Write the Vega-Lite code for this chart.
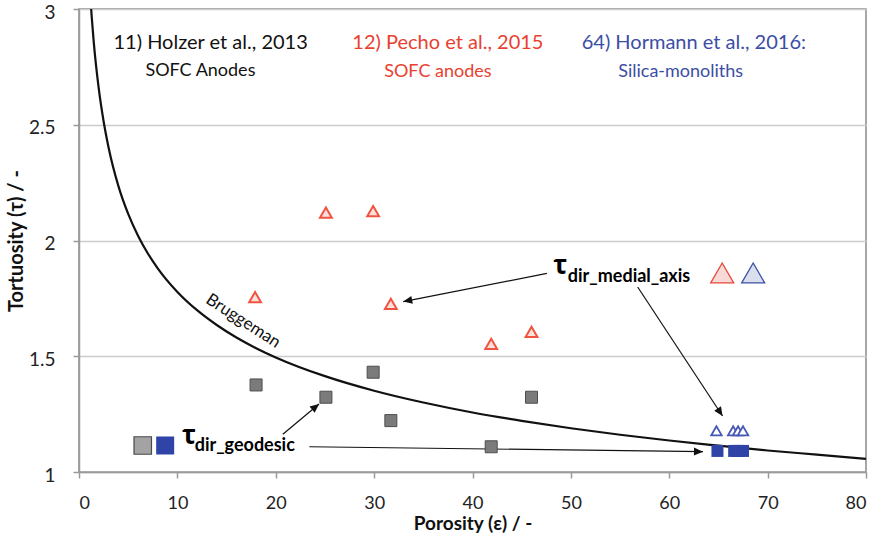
{
  "$schema": "https://vega.github.io/schema/vega-lite/v6.json",
  "width": 787,
  "height": 463,
  "autosize": {"type": "none"},
  "padding": {"left": 79, "top": 9, "right": 14, "bottom": 69},
  "background": "white",
  "config": {
    "font": "Lato",
    "view": {"stroke": "#8a8a8a", "strokeWidth": 1.5}
  },
  "encoding": {
    "x": {
      "field": "x",
      "type": "quantitative",
      "scale": {"domain": [0, 80], "nice": false, "zero": false},
      "axis": {
        "title": "Porosity (ε) / -",
        "values": [0, 10, 20, 30, 40, 50, 60, 70, 80],
        "grid": false,
        "domainColor": "#9a9a9a",
        "domainWidth": 1.5,
        "tickColor": "#9a9a9a",
        "tickWidth": 1.5,
        "tickSize": 6,
        "labelFont": "Lato",
        "labelFontSize": 18,
        "labelColor": "#222222",
        "labelPadding": 16,
        "titleFont": "Lato",
        "titleFontSize": 19,
        "titleFontWeight": "bold",
        "titleColor": "#111111",
        "titlePadding": 2
      }
    },
    "y": {
      "field": "y",
      "type": "quantitative",
      "scale": {"domain": [1, 3], "nice": false, "zero": false},
      "axis": {
        "title": "Tortuosity (τ) / -",
        "values": [1, 1.5, 2, 2.5, 3],
        "format": "~g",
        "grid": true,
        "gridColor": "#cccccc",
        "gridWidth": 1.5,
        "domainColor": "#9a9a9a",
        "domainWidth": 1.5,
        "tickColor": "#9a9a9a",
        "tickWidth": 1.5,
        "tickSize": 6,
        "labelFont": "Lato",
        "labelFontSize": 19,
        "labelColor": "#222222",
        "labelPadding": 18,
        "labelOffset": 3,
        "titleFont": "Lato",
        "titleFontSize": 20,
        "titleFontWeight": "bold",
        "titleColor": "#111111",
        "titlePadding": 2
      }
    }
  },
  "layer": [
    {
      "data": {
        "values": [
          {"x": 1.2, "y": 3.021},
          {"x": 1.3, "y": 2.962},
          {"x": 1.5, "y": 2.857},
          {"x": 2, "y": 2.659},
          {"x": 2.5, "y": 2.515},
          {"x": 3, "y": 2.403},
          {"x": 4, "y": 2.236},
          {"x": 5, "y": 2.115},
          {"x": 6, "y": 2.021},
          {"x": 7, "y": 1.944},
          {"x": 8, "y": 1.880},
          {"x": 10, "y": 1.778},
          {"x": 12, "y": 1.699},
          {"x": 14, "y": 1.635},
          {"x": 16, "y": 1.581},
          {"x": 18, "y": 1.535},
          {"x": 20, "y": 1.495},
          {"x": 25, "y": 1.414},
          {"x": 30, "y": 1.351},
          {"x": 35, "y": 1.300},
          {"x": 40, "y": 1.257},
          {"x": 45, "y": 1.221},
          {"x": 50, "y": 1.189},
          {"x": 55, "y": 1.161},
          {"x": 60, "y": 1.136},
          {"x": 65, "y": 1.114},
          {"x": 70, "y": 1.093},
          {"x": 75, "y": 1.075},
          {"x": 80, "y": 1.057}
        ]
      },
      "mark": {"type": "line", "color": "#111111", "strokeWidth": 2.2, "interpolate": "monotone", "clip": true}
    },
    {
      "data": {
        "values": [
          {"x": 47.56, "y": 1.858, "x2": 32.96, "y2": 1.736},
          {"x": 56.79, "y": 1.799, "x2": 65.42, "y2": 1.242},
          {"x": 20.72, "y": 1.163, "x2": 24.40, "y2": 1.294},
          {"x": 23.42, "y": 1.109, "x2": 63.43, "y2": 1.088}
        ]
      },
      "mark": {"type": "rule", "color": "#111111", "strokeWidth": 1.2},
      "encoding": {
        "x2": {"field": "x2"},
        "y2": {"field": "y2"}
      }
    },
    {
      "data": {"values": [{"x": 32.96, "y": 1.736}]},
      "mark": {"type": "point", "shape": "M0,0L0.45,1L-0.45,1Z", "size": 324, "filled": true, "color": "#111111", "opacity": 1, "angle": 258.8}
    },
    {
      "data": {"values": [{"x": 65.42, "y": 1.242}]},
      "mark": {"type": "point", "shape": "M0,0L0.45,1L-0.45,1Z", "size": 324, "filled": true, "color": "#111111", "opacity": 1, "angle": 146.6}
    },
    {
      "data": {"values": [{"x": 24.40, "y": 1.294}]},
      "mark": {"type": "point", "shape": "M0,0L0.45,1L-0.45,1Z", "size": 324, "filled": true, "color": "#111111", "opacity": 1, "angle": 50.1}
    },
    {
      "data": {"values": [{"x": 63.43, "y": 1.088}]},
      "mark": {"type": "point", "shape": "M0,0L0.45,1L-0.45,1Z", "size": 324, "filled": true, "color": "#111111", "opacity": 1, "angle": 90.7}
    },
    {
      "data": {
        "values": [
          {"study": "Holzer 2013", "x": 18.0, "y": 1.376},
          {"study": "Holzer 2013", "x": 25.1, "y": 1.323},
          {"study": "Holzer 2013", "x": 29.9, "y": 1.431},
          {"study": "Holzer 2013", "x": 31.7, "y": 1.222},
          {"study": "Holzer 2013", "x": 41.9, "y": 1.109},
          {"study": "Holzer 2013", "x": 46.0, "y": 1.323}
        ]
      },
      "mark": {"type": "point", "shape": "square", "size": 144, "filled": true, "fill": "#7b7b7b", "stroke": "#4e4e4e", "strokeWidth": 1, "opacity": 1}
    },
    {
      "data": {
        "values": [
          {"study": "Pecho 2015", "x": 25.1, "y": 2.120},
          {"study": "Pecho 2015", "x": 29.9, "y": 2.127},
          {"study": "Pecho 2015", "x": 17.9, "y": 1.755},
          {"study": "Pecho 2015", "x": 31.7, "y": 1.726},
          {"study": "Pecho 2015", "x": 41.9, "y": 1.553},
          {"study": "Pecho 2015", "x": 46.0, "y": 1.605}
        ]
      },
      "mark": {"type": "point", "shape": "triangle-up", "size": 140, "filled": true, "fill": "#fbe1dd", "stroke": "#f05440", "strokeWidth": 2, "opacity": 1}
    },
    {
      "data": {
        "values": [
          {"study": "Hormann 2016", "x": 64.8, "y": 1.178},
          {"study": "Hormann 2016", "x": 66.5, "y": 1.178},
          {"study": "Hormann 2016", "x": 67.0, "y": 1.178},
          {"study": "Hormann 2016", "x": 67.5, "y": 1.178}
        ]
      },
      "mark": {"type": "point", "shape": "triangle-up", "size": 110, "filled": true, "fill": "#ffffff", "stroke": "#4658b4", "strokeWidth": 1.8, "opacity": 1}
    },
    {
      "data": {
        "values": [
          {"study": "Hormann 2016", "x": 64.9, "y": 1.091},
          {"study": "Hormann 2016", "x": 66.6, "y": 1.091},
          {"study": "Hormann 2016", "x": 67.0, "y": 1.091},
          {"study": "Hormann 2016", "x": 67.5, "y": 1.091}
        ]
      },
      "mark": {"type": "point", "shape": "square", "size": 144, "filled": true, "fill": "#2f44a6", "opacity": 1}
    },
    {
      "data": {"values": [{"x": 6.48, "y": 1.1145}]},
      "mark": {"type": "point", "shape": "square", "size": 306, "filled": true, "fill": "#a3a3a3", "stroke": "#4a4a4a", "strokeWidth": 1.2, "opacity": 1}
    },
    {
      "data": {"values": [{"x": 8.76, "y": 1.1145}]},
      "mark": {"type": "point", "shape": "square", "size": 324, "filled": true, "fill": "#2f44a6", "opacity": 1}
    },
    {
      "data": {"values": [{"x": 65.38, "y": 1.8596}]},
      "mark": {"type": "point", "shape": "triangle-up", "size": 529, "filled": true, "fill": "#f6dad7", "stroke": "#e8473a", "strokeWidth": 1.3, "opacity": 1}
    },
    {
      "data": {"values": [{"x": 68.53, "y": 1.8596}]},
      "mark": {"type": "point", "shape": "triangle-up", "size": 529, "filled": true, "fill": "#d9dfed", "stroke": "#3c4fa8", "strokeWidth": 1.3, "opacity": 1}
    },
    {
      "data": {
        "values": [
          {"study": "Holzer", "label": "11) Holzer et al., 2013", "x": 13.38, "y": 2.851},
          {"study": "Pecho", "label": "12) Pecho et al., 2015", "x": 37.5, "y": 2.852},
          {"study": "Hormann", "label": "64) Hormann et al., 2016:", "x": 62.5, "y": 2.852}
        ]
      },
      "mark": {"type": "text", "font": "Lato", "fontSize": 20, "align": "center", "baseline": "middle"},
      "encoding": {
        "text": {"field": "label"},
        "color": {
          "field": "study",
          "type": "nominal",
          "scale": {"domain": ["Holzer", "Pecho", "Hormann"], "range": ["#111111", "#e8412f", "#3b4ea5"]},
          "legend": null
        }
      }
    },
    {
      "data": {
        "values": [
          {"study": "Holzer", "label": "SOFC Anodes", "x": 12.34, "y": 2.732},
          {"study": "Pecho", "label": "SOFC anodes", "x": 36.48, "y": 2.729},
          {"study": "Hormann", "label": "Silica-monoliths", "x": 61.16, "y": 2.729}
        ]
      },
      "mark": {"type": "text", "font": "Lato", "fontSize": 18, "align": "center", "baseline": "middle"},
      "encoding": {
        "text": {"field": "label"},
        "color": {
          "field": "study",
          "type": "nominal",
          "scale": {"domain": ["Holzer", "Pecho", "Hormann"], "range": ["#111111", "#e8412f", "#3b4ea5"]},
          "legend": null
        }
      }
    },
    {
      "data": {"values": [{"label": "Bruggeman", "x": 16.68, "y": 1.652}]},
      "mark": {"type": "text", "font": "Lato", "fontSize": 17, "angle": 33, "align": "center", "baseline": "middle", "color": "#111111"},
      "encoding": {"text": {"field": "label"}}
    },
    {
      "data": {
        "values": [
          {"label": "τ", "x": 48.93, "y": 1.856},
          {"label": "τ", "x": 11.18, "y": 1.121}
        ]
      },
      "mark": {"type": "text", "font": "Open Sans", "fontSize": 26, "fontWeight": "bold", "align": "center", "baseline": "alphabetic", "color": "#000000"},
      "encoding": {"text": {"field": "label"}}
    },
    {
      "data": {
        "values": [
          {"label": "dir_medial_axis", "x": 49.69, "y": 1.8207},
          {"label": "dir_geodesic", "x": 11.76, "y": 1.0907}
        ]
      },
      "mark": {"type": "text", "font": "Lato", "fontSize": 18, "fontWeight": "bold", "align": "left", "baseline": "alphabetic", "color": "#000000"},
      "encoding": {"text": {"field": "label"}}
    }
  ]
}
